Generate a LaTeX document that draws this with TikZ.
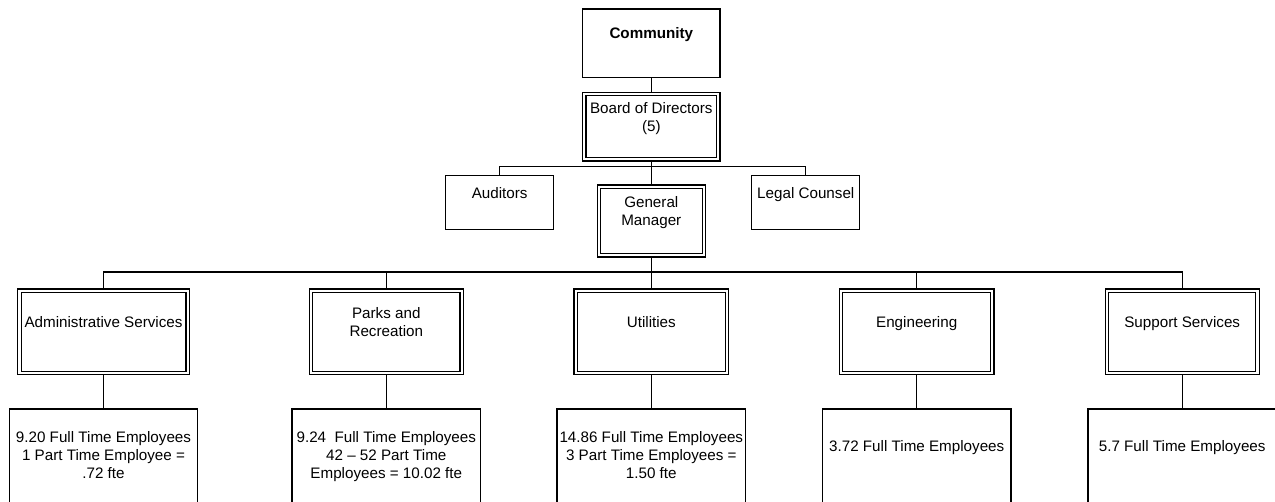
\documentclass[tikz,border=0pt]{standalone}
\usepackage{fontspec}
\setmainfont{Liberation Sans}
\usetikzlibrary{backgrounds}

\newcommand{\orgfont}{\fontsize{15.2}{18}\selectfont}

\tikzset{
  orgbox/.style={rectangle, draw, line width=1.2pt, fill=white, inner sep=0pt},
  keybox/.style={rectangle, draw, line width=1.1pt, double, double distance=2.2pt, fill=white, inner sep=0pt},
  lbl/.style={anchor=base, align=center, inner sep=0pt, font=\orgfont},
  link/.style={line width=1.2pt}
}

\begin{document}
\begin{tikzpicture}[x=1pt, y=-1pt]
  \useasboundingbox (0,0) rectangle (1275,502);
  \clip (0,0) rectangle (1275,502);
  % top of the chart
  \node[orgbox, minimum width=137.3pt, minimum height=68.7pt] (comm) at (651.3,43.3) {};
  \node[keybox, minimum width=134pt, minimum height=65.3pt] (board) at (651.3,126.7) {};
  \node[orgbox, minimum width=108pt, minimum height=54pt] (aud) at (499.7,202.3) {};
  \node[orgbox, minimum width=108pt, minimum height=54pt] (legal) at (805.8,202.3) {};
  \node[keybox, minimum width=105pt, minimum height=68.7pt] (gm) at (651.3,221) {};

  % departments and their staff
  \foreach \name/\x/\w in {admin/103.5/168.2, parks/386.3/150.6, util/651.3/151.3, eng/916.7/151.3, supp/1182.2/150.6} {
    \node[keybox, minimum width=\w pt, minimum height=82.3pt] (\name) at (\x,331.8) {};
    \node[orgbox, minimum width=188.5pt, minimum height=111pt] (\name-staff) at (\x,464.5) {};
  }

  % texts (base is the last line)
  \node[lbl, font=\orgfont\bfseries] (commT) at (651.3,39) {Community};
  \node[lbl] (boardT) at (651.3,131.5) {Board of Directors\\(5)};
  \node[lbl] (audT) at (499.7,198.3) {Auditors};
  \node[lbl] (legalT) at (805.8,198.3) {Legal Counsel};
  \node[lbl] (gmT) at (651.3,225.5) {General\\Manager};
  \node[lbl] (adminT) at (103.5,327.3) {Administrative Services};
  \node[lbl] (parksT) at (386.3,336.3) {Parks and\\Recreation};
  \node[lbl] (utilT) at (651.3,327.3) {Utilities};
  \node[lbl] (engT) at (916.7,327.3) {Engineering};
  \node[lbl] (suppT) at (1182.2,327.3) {Support Services};
  \node[lbl] (adminST) at (103.5,478.7) {9.20 Full Time Employees\\1 Part Time Employee =\\.72 fte};
  \node[lbl] (parksST) at (386.3,478.7) {9.24\ \ Full Time Employees\\42 -- 52 Part Time\\Employees = 10.02 fte};
  \node[lbl] (utilST) at (651.3,478.7) {14.86 Full Time Employees\\3 Part Time Employees =\\1.50 fte};
  \node[lbl] (engST) at (916.7,451.7) {3.72 Full Time Employees};
  \node[lbl] (suppST) at (1182.2,451.7) {5.7 Full Time Employees};

  % connectors
  \begin{scope}[on background layer]
    \coordinate (busA) at (651.3,166.7);
    \coordinate (busB) at (651.3,272);
    \draw[link] (comm) -- (board);
    \draw[link] (board) -- (gm);
    \draw[link] (aud.north) |- (busA) -| (legal.north);
    \draw[link] (gm) -- (util);
    \draw[link] (admin.north) |- (busB) -| (supp.north);
    \draw[link] (parks.north) -- (parks.north |- busB);
    \draw[link] (eng.north) -- (eng.north |- busB);
    \foreach \name in {admin,parks,util,eng,supp}
      \draw[link] (\name) -- (\name-staff);
  \end{scope}
\end{tikzpicture}
\end{document}
